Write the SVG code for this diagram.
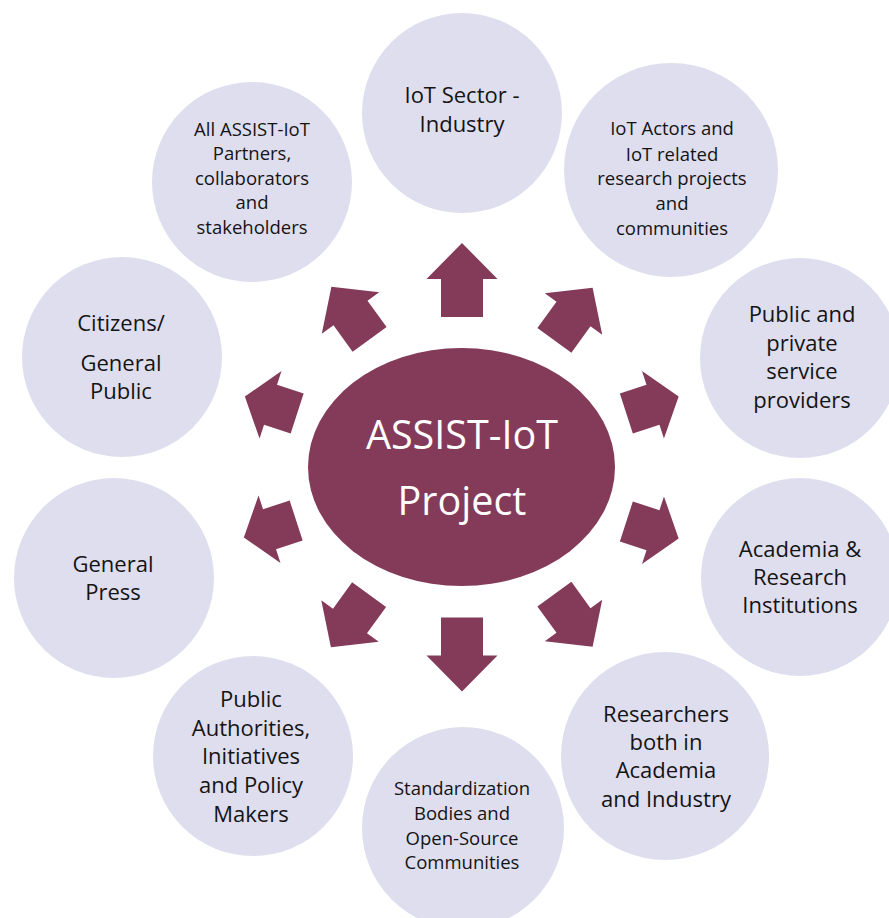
<svg xmlns="http://www.w3.org/2000/svg" width="889" height="918" viewBox="0 0 889 918">
<style>
.c{fill:#DFDEEF}
.t{font-family:"Open Sans","Noto Sans","Liberation Sans",sans-serif;fill:#141414;text-anchor:middle}
.l{font-size:22px}
.s{font-size:18.5px}
.a{fill:#843A59}
.ct{font-family:"Open Sans","Noto Sans","Liberation Sans",sans-serif;fill:#FFFFFF;text-anchor:middle;font-size:39.5px}
</style>
<defs>
<polygon id="a74" points="-37,-21 1,-21 1,-35.5 37,0 1,35.5 1,21 -37,21"/>
<polygon id="a65" points="-32.5,-21 0,-21 0,-35.5 32.5,0 0,35.5 0,21 -32.5,21"/>
<polygon id="a55" points="-27.5,-21 0.5,-21 0.5,-35.5 27.5,0 0.5,35.5 0.5,21 -27.5,21"/>
</defs>
<rect width="889" height="918" fill="#FFFFFF"/>
<g id="n-iot-sector"><circle class="c" cx="462" cy="113" r="100"/>
<text class="t l" x="462" y="103">IoT Sector -</text><text class="t l" x="462" y="132">Industry</text></g>
<g id="n-partners"><circle class="c" cx="252" cy="182" r="100"/>
<text class="t s" x="252" y="136">All ASSIST-IoT</text><text class="t s" x="252" y="160">Partners,</text><text class="t s" x="252" y="185">collaborators</text><text class="t s" x="252" y="209">and</text><text class="t s" x="252" y="234">stakeholders</text></g>
<g id="n-iot-actors"><circle class="c" cx="671" cy="170" r="107"/>
<text class="t s" x="672" y="135">IoT Actors and</text><text class="t s" x="672" y="161">IoT related</text><text class="t s" x="672" y="185">research projects</text><text class="t s" x="672" y="210">and</text><text class="t s" x="672" y="235">communities</text></g>
<g id="n-service-providers"><circle class="c" cx="800" cy="358" r="100"/>
<text class="t l" x="802" y="322">Public and</text><text class="t l" x="802" y="350.5">private</text><text class="t l" x="802" y="379">service</text><text class="t l" x="802" y="407.5">providers</text></g>
<g id="n-academia"><circle class="c" cx="800" cy="577" r="99"/>
<text class="t l" x="800" y="557">Academia &amp;</text><text class="t l" x="800" y="585">Research</text><text class="t l" x="800" y="613">Institutions</text></g>
<g id="n-researchers"><circle class="c" cx="665" cy="756" r="104"/>
<text class="t l" x="666" y="722">Researchers</text><text class="t l" x="666" y="750">both in</text><text class="t l" x="666" y="778">Academia</text><text class="t l" x="666" y="807">and Industry</text></g>
<g id="n-standardization"><circle class="c" cx="463" cy="828" r="101"/>
<text class="t s" x="462" y="795">Standardization</text><text class="t s" x="462" y="820">Bodies and</text><text class="t s" x="462" y="845">Open-Source</text><text class="t s" x="462" y="869">Communities</text></g>
<g id="n-authorities"><circle class="c" cx="253" cy="756" r="100"/>
<text class="t l" x="251" y="707">Public</text><text class="t l" x="251" y="736">Authorities,</text><text class="t l" x="251" y="764">Initiatives</text><text class="t l" x="251" y="793">and Policy</text><text class="t l" x="251" y="822">Makers</text></g>
<g id="n-press"><circle class="c" cx="114" cy="578" r="100"/>
<text class="t l" x="113" y="572">General</text><text class="t l" x="113" y="600">Press</text></g>
<g id="n-citizens"><circle class="c" cx="122" cy="357" r="100"/>
<text class="t l" x="121" y="331">Citizens/</text><text class="t l" x="121" y="371">General</text><text class="t l" x="121" y="399">Public</text></g>
<g id="connectors" class="a">
<use href="#a74" transform="translate(462,280) rotate(-90)"/>
<use href="#a74" transform="translate(462,654.5) rotate(90)"/>
<use href="#a65" transform="translate(573.5,314) rotate(-54)"/>
<use href="#a65" transform="translate(573.5,620.5) rotate(54)"/>
<use href="#a65" transform="translate(350.5,313) rotate(-126)"/>
<use href="#a65" transform="translate(350,621) rotate(126)"/>
<use href="#a55" transform="translate(652.5,405) rotate(-18)"/>
<use href="#a55" transform="translate(652.5,530) rotate(18)"/>
<use href="#a55" transform="translate(271,405) rotate(-162)"/>
<use href="#a55" transform="translate(270,529) rotate(162)"/>
</g>
<g id="n-center"><ellipse class="a" cx="461.5" cy="467" rx="153.5" ry="119"/>
<text class="ct" x="462" y="449">ASSIST-IoT</text><text class="ct" x="462" y="515">Project</text></g>
</svg>
